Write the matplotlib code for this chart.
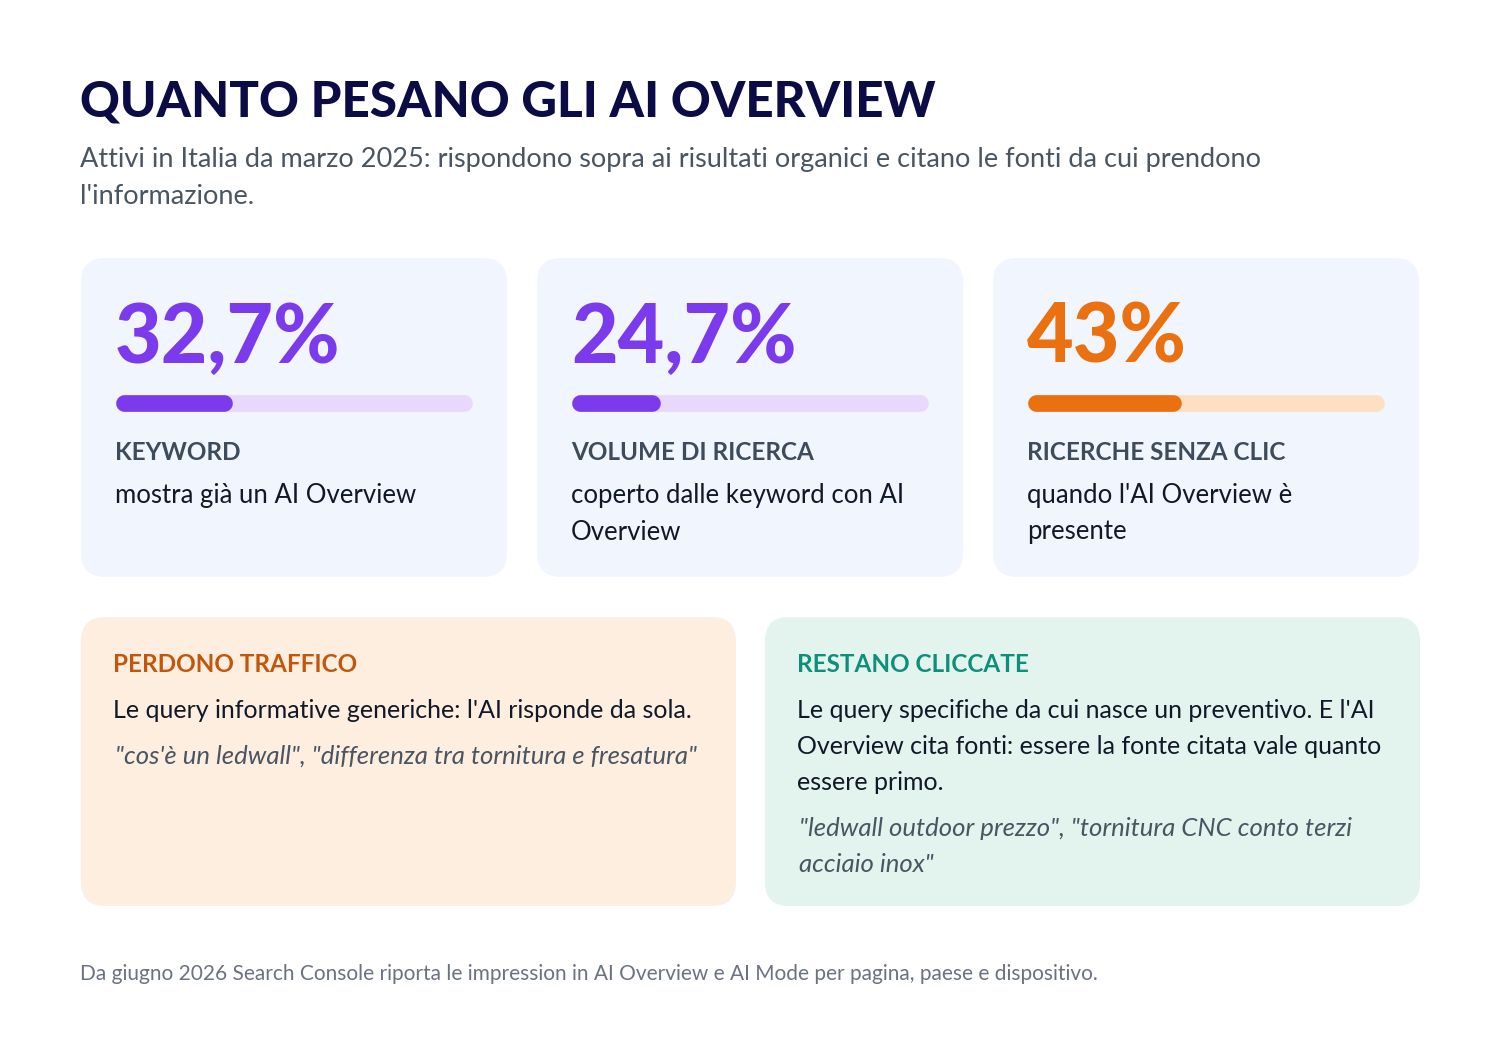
import matplotlib.pyplot as plt
from matplotlib.patches import FancyBboxPatch

plt.rcParams["font.family"] = ["Lato", "DejaVu Sans"]

title = "QUANTO PESANO GLI AI OVERVIEW"
subtitle = ["Attivi in Italia da marzo 2025: rispondono sopra ai risultati organici e citano le fonti da cui prendono",
            "l'informazione."]
stat_values = [32.7, 24.7, 43.0]
stat_labels = ["32,7%", "24,7%", "43%"]
stat_titles = ["KEYWORD", "VOLUME DI RICERCA", "RICERCHE SENZA CLIC"]
stat_desc = [["mostra già un AI Overview"],
             ["coperto dalle keyword con AI", "Overview"],
             ["quando l'AI Overview è", "presente"]]
stat_colors = ["#7C3AED", "#7C3AED", "#EA7010"]
stat_tracks = ["#E8D8FB", "#E8D8FB", "#FDDFC4"]

box_titles = ["PERDONO TRAFFICO", "RESTANO CLICCATE"]
box_body = [["Le query informative generiche: l'AI risponde da sola."],
            ["Le query specifiche da cui nasce un preventivo. E l'AI",
             "Overview cita fonti: essere la fonte citata vale quanto",
             "essere primo."]]
box_quotes = [["\"cos'è un ledwall\", \"differenza tra tornitura e fresatura\""],
              ["\"ledwall outdoor prezzo\", \"tornitura CNC conto terzi",
               "acciaio inox\""]]
box_bg = ["#FDEEE0", "#E3F3EE"]
box_fg = ["#C2570C", "#0E8F7A"]
footer = "Da giugno 2026 Search Console riporta le impression in AI Overview e AI Mode per pagina, paese e dispositivo."

fig = plt.figure(figsize=(15, 10.61), dpi=100)
ax = fig.add_axes([0, 0, 1, 1])
ax.set_xlim(0, 1500)
ax.set_ylim(1061, 0)
ax.axis("off")

ax.text(80, 102, title, fontsize=35.5, fontweight="black", color="#0B0B45", va="center")
for i, line in enumerate(subtitle):
    ax.text(80, 160 + i * 37, line, fontsize=19.5, color="#4A5562", va="center")

# stat cards
for i, v in enumerate(stat_values):
    x0 = 81 + i * 456
    ax.add_patch(FancyBboxPatch((x0, 258), 426, 319, boxstyle="round,pad=0,rounding_size=24",
                                fc="#F0F5FE", ec="none"))
    ax.text(x0 + 34, 339, stat_labels[i], fontsize=58, fontweight="black",
            color=stat_colors[i], va="center")
    bx, bw = x0 + 35, 356
    ax.plot([bx + 8, bx + bw - 8], [403, 403], lw=12, color=stat_tracks[i], solid_capstyle="round")
    ax.plot([bx + 8, bx + bw * v / 100 - 8], [403, 403], lw=12, color=stat_colors[i],
            solid_capstyle="round")
    ax.text(x0 + 34, 452, stat_titles[i], fontsize=17.5, fontweight="bold", color="#3D4B5C", va="center")
    for j, line in enumerate(stat_desc[i]):
        ax.text(x0 + 34, 496 + j * 36, line, fontsize=18.5, color="#111827", va="center")

# bottom boxes
for i in range(2):
    x0 = 81 + i * 684
    ax.add_patch(FancyBboxPatch((x0, 617), 655, 289, boxstyle="round,pad=0,rounding_size=24",
                                fc=box_bg[i], ec="none"))
    ax.text(x0 + 32, 664, box_titles[i], fontsize=17.5, fontweight="bold", color=box_fg[i], va="center")
    for j, line in enumerate(box_body[i]):
        ax.text(x0 + 32, 710 + j * 36, line, fontsize=18, color="#111827", va="center")
    y = 710 + len(box_body[i]) * 36 + 10
    for j, line in enumerate(box_quotes[i]):
        ax.text(x0 + 34, y + j * 37, line, fontsize=18.5, style="italic", color="#4A5562", va="center")

ax.text(80, 974, footer, fontsize=15, color="#6B7280", va="center")

fig.savefig("out.png", dpi=100, facecolor="white")
